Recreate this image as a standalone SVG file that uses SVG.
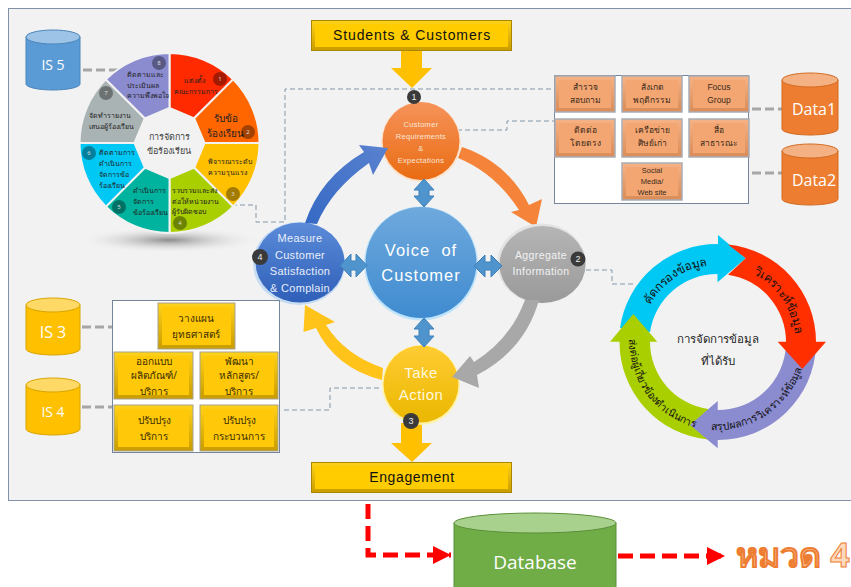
<svg xmlns="http://www.w3.org/2000/svg" width="851" height="587" viewBox="0 0 851 587">
<style>
text{font-family:"Noto Sans","Liberation Sans","DejaVu Sans",sans-serif;text-anchor:middle}
.lat{font-family:"Liberation Sans",sans-serif}
.open{font-family:"Open Sans","Liberation Sans",sans-serif;fill:#fff;font-size:16px}
.seg{stroke:#f2f2f2;stroke-width:2}
.w7{font-size:7px;fill:#222;text-anchor:start}
.bd{fill:#000;fill-opacity:.36}
.bn{font-size:6px;fill:#ddd}
.b{fill:#3a3a3a}
.bt{font-size:9px;fill:#eee;font-family:"Liberation Sans",sans-serif}
.heavy{fill:none;stroke:#a6a6a6;stroke-width:3;stroke-dasharray:9 4}
.thin{fill:none;stroke:#8497a8;stroke-width:1;stroke-dasharray:5 3}
.red{fill:none;stroke:#ff0000;stroke-width:5;stroke-dasharray:15 7}
.frame{fill:#fff;stroke:#75869c;stroke-width:1}
.or{fill:url(#ob);stroke:#a9adb5;stroke-width:1.500}
.ori{fill:#f4a672}
.ye{fill:url(#yb);stroke:#a6a290;stroke-width:1}
.yei{fill:#ffc90a}
.ot{font-size:8.5px;fill:#3a2a1a}
.yt{font-size:10px;fill:#3a2c00}
.dbl{fill:#4f94cd;stroke:#3f80ba;stroke-width:1}
.rt{font-size:12px;fill:#111}
</style>
<defs>
<linearGradient id="yb" x1="0" y1="0" x2="0" y2="1"><stop offset="0" stop-color="#ffd21a"/><stop offset="1" stop-color="#c99c00"/></linearGradient>
<linearGradient id="ob" x1="0" y1="0" x2="0" y2="1"><stop offset="0" stop-color="#f6b286"/><stop offset="1" stop-color="#d98c58"/></linearGradient>
<linearGradient id="gO" x1="0" y1="0" x2="0" y2="1"><stop offset="0" stop-color="#f6935a"/><stop offset="1" stop-color="#e96c12"/></linearGradient>
<linearGradient id="gV" x1="0" y1="0" x2="0" y2="1"><stop offset="0" stop-color="#6fa9dd"/><stop offset="1" stop-color="#3f8bd0"/></linearGradient>
<linearGradient id="gM" x1="0" y1="0" x2="0" y2="1"><stop offset="0" stop-color="#5b8bd8"/><stop offset="1" stop-color="#2f5fb8"/></linearGradient>
<linearGradient id="gA" x1="0" y1="0" x2="0" y2="1"><stop offset="0" stop-color="#b5b5b5"/><stop offset="1" stop-color="#9a9a9a"/></linearGradient>
<linearGradient id="gT" x1="0" y1="0" x2="0" y2="1"><stop offset="0" stop-color="#ffcc33"/><stop offset="1" stop-color="#eab700"/></linearGradient>
<linearGradient id="gBl" x1="0" y1="1" x2="1" y2="0"><stop offset="0" stop-color="#3569c4"/><stop offset="1" stop-color="#5a82cf"/></linearGradient>
<radialGradient id="sh"><stop offset="0" stop-color="#8c8c8c"/><stop offset="1" stop-color="#f2f2f2" stop-opacity="0"/></radialGradient>
<marker id="ah" markerUnits="userSpaceOnUse" markerWidth="20" markerHeight="20" refX="18" refY="9" orient="auto"><path d="M0,0L18,9L0,18Z" fill="#f00"/></marker>
<path id="pc" d="M648,309A77,77 0 0 1 712,265"/>
<path id="pr" d="M752,273A77,77 0 0 1 795,335"/>
<path id="pp" d="M706,429A88,88 0 0 0 803,364"/>
<path id="pl" d="M630,332A88,88 0 0 0 703,429"/>
</defs>

<rect id="panel" x="8.500" y="8.500" width="843" height="492" fill="#f2f2f2" stroke="#8091a8"/>

<g id="connectors">
<path class="heavy" d="M83,70H118"/>
<path class="heavy" d="M82,327H116"/>
<path class="heavy" d="M82,407H116"/>
<path class="heavy" d="M752,109H786"/>
<path class="heavy" d="M752,173H786"/>
<path class="thin" d="M232,205H256V222H285V89H557"/>
<path class="thin" d="M457,130H507V121H557"/>
<path class="thin" d="M586,270H612V284H635"/>
<path class="thin" d="M379,388H330V410H282"/>
<path class="red" d="M368,504V555H451" marker-end="url(#ah)"/>
<path class="red" d="M618,556H725" marker-end="url(#ah)"/>
<path d="M401,50H422V68H432L412,88L391,68H401Z" fill="#ffc000"/>
<path d="M401,423H422V443H432L412,462L391,443H401Z" fill="#ffc000"/>
<path d="M462,147Q507,162 529,205L542,199L536,227L511,212L519,210Q495,173 458,158Z" fill="#f5843a"/>
<path d="M383,368Q345,355 326,325L335,322L305,305L303.500,332L316,328Q335,368 382,380Z" fill="#ffc31a"/>
</g>

<g id="wheel">
<ellipse cx="169" cy="240" rx="92" ry="13" fill="url(#sh)"/>
<path class="seg" fill="#ff2a00" d="M169.500,53A90,90 0 0 1 233.100,79.400L194.200,118.300L169.500,108Z"/>
<path class="seg" fill="#ff6600" d="M233.100,79.400A90,90 0 0 1 259.500,143H204.500L194.200,118.300Z"/>
<path class="seg" fill="#ffc000" d="M259.500,143A90,90 0 0 1 233.100,206.600L194.200,167.700L204.500,143Z"/>
<path class="seg" fill="#aacf00" d="M233.100,206.600A90,90 0 0 1 169.500,233V178L194.200,167.700Z"/>
<path class="seg" fill="#00b39f" d="M169.500,233A90,90 0 0 1 105.900,206.600L144.800,167.700L169.500,178Z"/>
<path class="seg" fill="#00c8f5" d="M105.900,206.600A90,90 0 0 1 79.500,143H134.500L144.800,167.700Z"/>
<path class="seg" fill="#a9b3b3" d="M79.500,143A90,90 0 0 1 105.900,79.400L144.800,118.300L134.500,143Z"/>
<path class="seg" fill="#8b8bd0" d="M105.900,79.400A90,90 0 0 1 169.500,53V108L144.800,118.300Z"/>
<text class="w7" x="184" y="83">แต่งตั้ง</text><text class="w7" x="174" y="94">คณะกรรมการ</text>
<text x="226" y="122" font-size="10" fill="#222">รับข้อ</text><text x="225" y="137" font-size="10" fill="#222">ร้องเรียน</text>
<text class="w7" x="208" y="164">พิจารณาระดับ</text><text class="w7" x="208" y="175">ความรุนแรง</text>
<text class="w7" x="172" y="193">รวบรวมและส่ง</text><text class="w7" x="172" y="204">ต่อให้หน่วยงาน</text><text class="w7" x="172" y="214">ผู้รับผิดชอบ</text>
<text class="w7" x="133" y="193">ดำเนินการ</text><text class="w7" x="133" y="204">จัดการ</text><text class="w7" x="133" y="215">ข้อร้องเรียน</text>
<text class="w7" x="99" y="155">ติดตามการ</text><text class="w7" x="99" y="166">ดำเนินการ</text><text class="w7" x="99" y="177">จัดการข้อ</text><text class="w7" x="99" y="188">ร้องเรียน</text>
<text class="w7" x="89" y="118">จัดทำรายงาน</text><text class="w7" x="89" y="129">เสนอผู้ร้องเรียน</text>
<text class="w7" x="127" y="77">ติดตามและ</text><text class="w7" x="127" y="88">ประเมินผล</text><text class="w7" x="127" y="98">ความพึงพอใจ</text>
<text x="169" y="140" font-size="9" fill="#444">การจัดการ</text><text x="169" y="154" font-size="9" fill="#444">ข้อร้องเรียน</text>
<circle class="bd" cx="220" cy="79" r="7"/><text class="bn" x="220" y="81">1</text>
<circle class="bd" cx="248" cy="132" r="7"/><text class="bn" x="248" y="134">2</text>
<circle class="bd" cx="233" cy="194" r="7"/><text class="bn" x="233" y="196">3</text>
<circle class="bd" cx="180" cy="223" r="7"/><text class="bn" x="180" y="225">4</text>
<circle class="bd" cx="119" cy="207" r="7"/><text class="bn" x="119" y="209">5</text>
<circle class="bd" cx="89" cy="153" r="7"/><text class="bn" x="89" y="155">6</text>
<circle class="bd" cx="106" cy="93" r="7"/><text class="bn" x="106" y="95">7</text>
<circle class="bd" cx="159" cy="63" r="7"/><text class="bn" x="159" y="65">8</text>
</g>

<g id="is5"><path d="M26,37V84A27,6 0 0 0 80,84V37Z" fill="#5b9bd5" stroke="#4a85bb"/><ellipse cx="53" cy="37" rx="27" ry="7" fill="#9dc3e6" stroke="#4a85bb"/><text class="open" x="53" y="70" style="font-size:14px">IS 5</text></g>
<g id="is3"><path d="M26,305V349A27,6 0 0 0 80,349V305Z" fill="#ffc000" stroke="#d9a400"/><ellipse cx="53" cy="305" rx="27" ry="7" fill="#ffd966" stroke="#d9a400"/><text class="open" x="53" y="338">IS 3</text></g>
<g id="is4"><path d="M26,385V429A27,6 0 0 0 80,429V385Z" fill="#ffc000" stroke="#d9a400"/><ellipse cx="53" cy="385" rx="27" ry="7" fill="#ffd966" stroke="#d9a400"/><text class="open" x="53" y="417" style="font-size:14px">IS 4</text></g>
<g id="data1"><path d="M782,80V129A28,6 0 0 0 838,129V80Z" fill="#ed7d31" stroke="#d36a20"/><ellipse cx="810" cy="80" rx="28" ry="7" fill="#f4b183" stroke="#d36a20"/><text class="open" x="814" y="115">Data1</text></g>
<g id="data2"><path d="M782,151V199A28,6 0 0 0 838,199V151Z" fill="#ed7d31" stroke="#d36a20"/><ellipse cx="810" cy="151" rx="28" ry="7" fill="#f4b183" stroke="#d36a20"/><text class="open" x="814" y="186">Data2</text></g>
<g id="database"><path d="M454,523V592H616V523Z" fill="#70ad47" stroke="#5a8f38"/><ellipse cx="535" cy="523" rx="81" ry="10" fill="#a9d18e" stroke="#5a8f38"/><text class="open" x="535" y="569" style="font-size:19px">Database</text></g>
<g id="hmuad"><text x="793" y="567" font-size="34" font-weight="bold" fill="#fcd9bd" stroke="#ed7d31" stroke-width="1">หมวด 4</text></g>

<g id="students"><rect x="311.500" y="20.500" width="200" height="30" fill="url(#yb)" stroke="#a88600"/><rect x="315" y="24" width="193" height="23" fill="#ffcc00"/><text class="lat" x="412" y="40" font-size="14" letter-spacing=".9" fill="#111">Students &amp; Customers</text></g>
<g id="engagement"><rect x="311.500" y="462.500" width="200" height="30" fill="url(#yb)" stroke="#a88600"/><rect x="315" y="466" width="193" height="23" fill="#ffcc00"/><text class="lat" x="412" y="482" font-size="14" letter-spacing=".6" fill="#111">Engagement</text></g>

<g id="customer"><circle cx="421" cy="142" r="40" fill="#fde3cf"/><ellipse cx="421" cy="141" rx="38.500" ry="39" fill="url(#gO)"/><g class="lat" fill="#fbe6d8" font-size="7.500" letter-spacing=".3"><text class="lat" x="421" y="127">Customer</text><text class="lat" x="421" y="139">Requirements</text><text class="lat" x="421" y="151">&amp;</text><text class="lat" x="421" y="163">Expectations</text></g></g>
<g id="voice"><ellipse cx="421" cy="263.500" rx="57" ry="57" fill="#bfe3fa"/><ellipse cx="421" cy="262.500" rx="55.500" ry="55.500" fill="url(#gV)"/><g fill="#fff" font-size="16.500" letter-spacing="1"><text class="lat" x="421" y="256" xml:space="preserve">Voice  of</text><text class="lat" x="421" y="281">Customer</text></g></g>
<g id="measure"><ellipse cx="299" cy="263.500" rx="46" ry="41.500" fill="#c5dcf3"/><ellipse cx="300" cy="262.500" rx="44.500" ry="40" fill="url(#gM)"/><g fill="#e8eefb" font-size="11" letter-spacing=".3"><text class="lat" x="300" y="242">Measure</text><text class="lat" x="300" y="259">Customer</text><text class="lat" x="300" y="275">Satisfaction</text><text class="lat" x="300" y="292">&amp; Complain</text></g></g>
<g id="aggregate"><ellipse cx="541.500" cy="263.500" rx="44.500" ry="40" fill="#e3e3e3"/><ellipse cx="542.500" cy="264.500" rx="43" ry="38.500" fill="url(#gA)"/><g fill="#f2f2f2" font-size="10.500" letter-spacing=".4"><text class="lat" x="541" y="259">Aggregate</text><text class="lat" x="541" y="275">Information</text></g></g>
<g id="take"><ellipse cx="421" cy="385" rx="39" ry="40" fill="#fff2a8"/><ellipse cx="421" cy="384" rx="37.500" ry="38.500" fill="url(#gT)"/><g fill="#fff8dc" font-size="15" letter-spacing=".5"><text class="lat" x="421" y="378">Take</text><text class="lat" x="421" y="400">Action</text></g></g>

<g id="connectors-front">
<path d="M305,223Q320,178 364,152L359,145L388,148L373,175L369,163Q331,190 317,224Z" fill="url(#gBl)"/>
<path d="M525,300Q510,340 474,362L470,356L452,377L479,388L477,375Q525,350 539,300Z" fill="#a8a8a8"/>
<path class="dbl" d="M424,179L434,190H429V196H434L424,207L414,196H419V190H414Z"/>
<path class="dbl" d="M424,318L434,329H429V336H434L424,347L414,336H419V329H414Z"/>
<path class="dbl" d="M340,265.500L351,254V261H356V254L367,265.500L356,277V270H351V277Z"/>
<path class="dbl" d="M474,266L485,255V262H491V255L502,266L491,277V270H485V277Z"/>
</g>

<g id="badges">
<circle class="b" cx="414" cy="97" r="7"/><text class="bt" x="414" y="100">1</text>
<circle class="b" cx="578" cy="259" r="7.500"/><text class="bt" x="578" y="262">2</text>
<circle class="b" cx="411" cy="421" r="8"/><text class="bt" x="411" y="424">3</text>
<circle class="b" cx="260" cy="257" r="8"/><text class="bt" x="260" y="260">4</text>
</g>

<g id="survey">
<rect class="frame" x="554.500" y="75.500" width="194" height="128"/>
<g id="o1"><rect class="or" x="555" y="76" width="60" height="36"/><rect class="ori" x="559" y="80" width="52" height="28"/><text class="ot" x="585" y="90">สำรวจ</text><text class="ot" x="585" y="103">สอบถาม</text></g>
<g id="o2"><rect class="or" x="622" y="76" width="60" height="36"/><rect class="ori" x="626" y="80" width="52" height="28"/><text class="ot" x="652" y="90">สังเกต</text><text class="ot" x="652" y="103">พฤติกรรม</text></g>
<g id="o3"><rect class="or" x="689" y="76" width="60" height="36"/><rect class="ori" x="693" y="80" width="52" height="28"/><text class="ot lat" x="719" y="90">Focus</text><text class="ot lat" x="719" y="103">Group</text></g>
<g id="o4"><rect class="or" x="555" y="119" width="60" height="38"/><rect class="ori" x="559" y="123" width="52" height="30"/><text class="ot" x="585" y="133">ติดต่อ</text><text class="ot" x="585" y="146">โดยตรง</text></g>
<g id="o5"><rect class="or" x="622" y="119" width="60" height="38"/><rect class="ori" x="626" y="123" width="52" height="30"/><text class="ot" x="652" y="133">เครือข่าย</text><text class="ot" x="652" y="146">ศิษย์เก่า</text></g>
<g id="o6"><rect class="or" x="689" y="119" width="60" height="38"/><rect class="ori" x="693" y="123" width="52" height="30"/><text class="ot" x="719" y="133">สื่อ</text><text class="ot" x="719" y="146">สาธารณะ</text></g>
<g id="o7"><rect class="or" x="622" y="163" width="60" height="37"/><rect class="ori" x="626" y="167" width="52" height="29"/><text class="ot lat" style="font-size:7.500px" x="652" y="173">Social</text><text class="ot lat" style="font-size:7.500px" x="652" y="184">Media/</text><text class="ot lat" style="font-size:7.500px" x="652" y="195">Web site</text></g>
</g>

<g id="plans">
<rect class="frame" x="112.500" y="300.500" width="167" height="152"/>
<g id="y1"><rect class="ye" x="158" y="303" width="77" height="46"/><rect class="yei" x="162" y="307" width="69" height="38"/><text class="yt" x="196" y="322">วางแผน</text><text class="yt" x="196" y="338">ยุทธศาสตร์</text></g>
<g id="y2"><rect class="ye" x="114" y="352" width="79" height="47"/><rect class="yei" x="118" y="356" width="71" height="39"/><text class="yt" x="154" y="365">ออกแบบ</text><text class="yt" x="154" y="379">ผลิตภัณฑ์/</text><text class="yt" x="154" y="395">บริการ</text></g>
<g id="y3"><rect class="ye" x="200" y="352" width="78" height="47"/><rect class="yei" x="204" y="356" width="70" height="39"/><text class="yt" x="239" y="365">พัฒนา</text><text class="yt" x="239" y="379">หลักสูตร/</text><text class="yt" x="239" y="395">บริการ</text></g>
<g id="y4"><rect class="ye" x="114" y="405" width="79" height="46"/><rect class="yei" x="118" y="409" width="71" height="38"/><text class="yt" x="154" y="424">ปรับปรุง</text><text class="yt" x="154" y="440">บริการ</text></g>
<g id="y5"><rect class="ye" x="200" y="405" width="78" height="46"/><rect class="yei" x="204" y="409" width="70" height="38"/><text class="yt" x="239" y="424">ปรับปรุง</text><text class="yt" x="239" y="440">กระบวนการ</text></g>
</g>

<g id="ring">
<path fill="#00c8f5" d="M620,328A98,98 0 0 1 718,244V235L745.700,258.300L717.500,282.300V274A68,68 0 0 0 650,332Z"/>
<path fill="#aacf00" d="M708,439.500A98,98 0 0 1 619.500,341.700H610L633.300,314L657.300,341.700H650A68,68 0 0 0 708,409Z"/>
<path fill="#8b8bd0" d="M816,345A98,98 0 0 1 717.700,440V448.300L690,425L717.700,401V410A68,68 0 0 0 786,345Z"/>
<path fill="#ff2f00" d="M728,244.500A98,98 0 0 1 816,341.700H826L802.300,369L777.700,341.700H786A68,68 0 0 0 728,274.700L745.700,258.300Z"/>
<text class="rt"><textPath href="#pc" startOffset="50%">คัดกรองข้อมูล</textPath></text>
<text class="rt"><textPath href="#pr" startOffset="50%">วิเคราะห์ข้อมูล</textPath></text>
<text class="rt" style="font-size:10.500px"><textPath href="#pp" startOffset="50%">สรุปผลการวิเคราะห์ข้อมูล</textPath></text>
<text class="rt" style="font-size:10.500px"><textPath href="#pl" startOffset="50%">ส่งต่อผู้เกี่ยวข้องดำเนินการ</textPath></text>
<text x="718" y="343" font-size="11.500" fill="#222">การจัดการข้อมูล</text>
<text x="718" y="365" font-size="11.500" fill="#222">ที่ได้รับ</text>
</g>
</svg>
